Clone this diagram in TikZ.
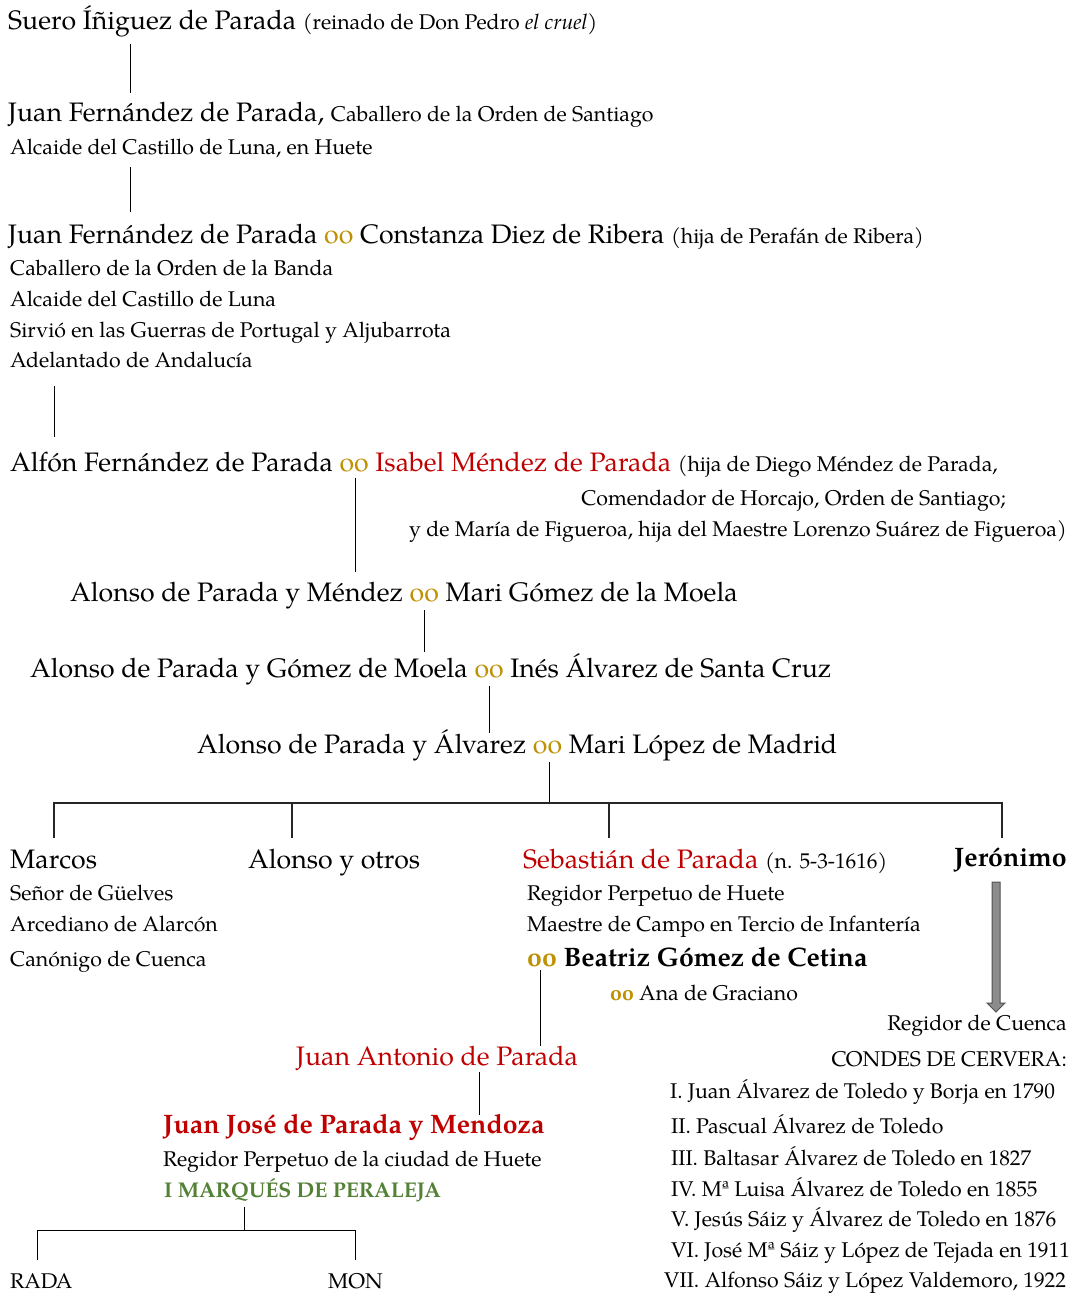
\documentclass[tikz,border=0pt]{standalone}
\usepackage{fontspec}
\setmainfont{texgyrepagella}[Extension=.otf, UprightFont=*-regular, BoldFont=*-bold, ItalicFont=*-italic, BoldItalicFont=*-bolditalic]
\definecolor{dred}{HTML}{C00000}
\definecolor{gold}{HTML}{BF9000}
\definecolor{dgreen}{HTML}{538135}
\definecolor{arrowfill}{HTML}{8C8C8C}
\definecolor{arrowline}{HTML}{505050}
\newcommand\marr{{\color{gold}oo}}
\newcommand\Sm{\fontsize{21.3}{25}\selectfont}
\tikzset{
  txt/.style={anchor=base west, inner sep=0pt, font=\fontsize{26.7}{31}\selectfont},
  txtr/.style={anchor=base east, inner sep=0pt, font=\fontsize{26.7}{31}\selectfont},
  sm/.style={font=\fontsize{21.3}{25}\selectfont},
  link/.style={draw=black, line width=1pt},
  bar/.style={draw=black!85, line width=1.4pt},
  blockarrow/.style={fill=arrowfill, draw=arrowline, line width=1pt}
}
\begin{document}
\begin{tikzpicture}[x=1pt,y=-1pt]
\useasboundingbox (0,0) rectangle (1079,1293);
\fill[white] (0,0) rectangle (1079,1293);

% generations
\node[txt] (suero) at (8,29) {Suero Íñiguez de Parada {\Sm(reinado de Don Pedro \textit{el cruel})}};
\node[txt] (jf1) at (8,121) {Juan Fernández de Parada, {\Sm Caballero de la Orden de Santiago}};
\node[txt,sm] (jf1b) at (10,154) {Alcaide del Castillo de Luna, en Huete};

\node[txt] (jf2) at (8,243) {Juan Fernández de Parada \marr{} Constanza Diez de Ribera {\Sm (hija de Perafán de Ribera)}};
\node[txt,sm] (jf2a) at (10,275) {Caballero de la Orden de la Banda};
\node[txt,sm] (jf2b) at (10,306) {Alcaide del Castillo de Luna};
\node[txt,sm] (jf2c) at (10,337) {Sirvió en las Guerras de Portugal y Aljubarrota};
\node[txt,sm] (jf2d) at (10,367) {Adelantado de Andalucía};

\node[txt] (alfon) at (10,471) {Alfón Fernández de Parada \marr{} \textcolor{dred}{Isabel Méndez de Parada} {\Sm (hija de Diego Méndez de Parada,}};
\node[txtr,sm] (alfonb) at (1006,505) {Comendador de Horcajo, Orden de Santiago;};
\node[txtr,sm] (alfonc) at (1067,536) {y de María de Figueroa, hija del Maestre Lorenzo Suárez de Figueroa)};

\node[txt] (alm) at (70,601) {Alonso de Parada y Méndez \marr{} Mari Gómez de la Moela};
\node[txt] (alg) at (30,677) {Alonso de Parada y Gómez de Moela \marr{} Inés Álvarez de Santa Cruz};
\node[txt] (ala) at (197,753) {Alonso de Parada y Álvarez \marr{} Mari López de Madrid};

% children
\node[txt] (marcos) at (10,868) {Marcos};
\node[txt,sm] (marcosa) at (10,900) {Señor de Güelves};
\node[txt,sm] (marcosb) at (10,931) {Arcediano de Alarcón};
\node[txt,sm] (marcosc) at (10,966) {Canónigo de Cuenca};

\node[txt] (alonso) at (248,868) {Alonso y otros};

\node[txt] (seb) at (523,868) {\textcolor{dred}{Sebastián de Parada} {\Sm (n. 5-3-1616)}};
\node[txt,sm] (seba) at (527,900) {Regidor Perpetuo de Huete};
\node[txt,sm] (sebb) at (527,931) {Maestre de Campo en Tercio de Infantería};
\node[txt] (beat) at (527,966) {\textbf{\marr{} Beatriz Gómez de Cetina}};
\node[txt,sm] (ana) at (610,1000) {\textbf{\marr} Ana de Graciano};

\node[txtr] (jer) at (1067,866) {\textbf{Jerónimo}};
\node[txtr,sm] (regc) at (1067,1030) {Regidor de Cuenca};
\node[txtr,sm] (condes) at (1067,1066) {CONDES DE CERVERA:};
\node[txt,sm] (c1) at (670,1098) {I. Juan Álvarez de Toledo y Borja en 1790};
\node[txt,sm] (c2) at (671,1133) {II. Pascual Álvarez de Toledo};
\node[txt,sm] (c3) at (671,1165) {III. Baltasar Álvarez de Toledo en 1827};
\node[txt,sm] (c4) at (671,1196) {IV. Mª Luisa Álvarez de Toledo en 1855};
\node[txt,sm] (c5) at (671,1226) {V. Jesús Sáiz y Álvarez de Toledo en 1876};
\node[txt,sm] (c6) at (671,1257) {VI. José Mª Sáiz y López de Tejada en 1911};
\node[txt,sm] (c7) at (664,1287) {VII. Alfonso Sáiz y López Valdemoro, 1922};

\node[txt] (jant) at (296,1065) {\textcolor{dred}{Juan Antonio de Parada}};
\node[txt] (jjose) at (163,1133) {\textcolor{dred}{\textbf{Juan José de Parada y Mendoza}}};
\node[txt,sm] (jjosea) at (163,1166) {Regidor Perpetuo de la ciudad de Huete};
\node[txt,sm] (marq) at (164,1197) {\textcolor{dgreen}{\textbf{I MARQUÉS DE PERALEJA}}};

\node[txt,sm] (rada) at (10,1288) {RADA};
\node[txt,sm] (mon) at (328,1288) {MON};

% connector end points
\coordinate (k1a) at (130,44);   \coordinate (k1b) at (130,93);
\coordinate (k2a) at (130,167);  \coordinate (k2b) at (130,212);
\coordinate (k3a) at (54,386);   \coordinate (k3b) at (54,437);
\coordinate (k4a) at (355,478);  \coordinate (k4b) at (355,572);
\coordinate (k5a) at (424,610);  \coordinate (k5b) at (424,652);
\coordinate (k6a) at (489,686);  \coordinate (k6b) at (489,733);
\coordinate (k7a) at (549,762);  \coordinate (k7b) at (549,803);
\coordinate (barL) at (54,803);  \coordinate (barR) at (1002,803);
\coordinate (dMar) at (54,838);  \coordinate (dAlo) at (292,838);
\coordinate (dSeb) at (609,838); \coordinate (dJer) at (1002,838);
\coordinate (tAlo) at (292,803); \coordinate (tSeb) at (609,803);
\coordinate (k8a) at (540,970);  \coordinate (k8b) at (540,1046);
\coordinate (k9a) at (479,1072); \coordinate (k9b) at (479,1115);
\coordinate (k10a) at (244,1207); \coordinate (k10b) at (244,1230);
\coordinate (rbL) at (37,1230);  \coordinate (rbR) at (355,1230);
\coordinate (dRad) at (37,1260); \coordinate (dMon) at (355,1260);

\draw[link] (k1a) -- (k1b);
\draw[link] (k2a) -- (k2b);
\draw[link] (k3a) -- (k3b);
\draw[link] (k4a) -- (k4b);
\draw[link] (k5a) -- (k5b);
\draw[link] (k6a) -- (k6b);
\draw[link] (k7a) -- (k7b);
\draw[bar] (dMar) -- (barL) -- (barR) -- (dJer);
\draw[bar] (tAlo) -- (dAlo);
\draw[bar] (tSeb) -- (dSeb);
\draw[link] (k8a) -- (k8b);
\draw[link] (k9a) -- (k9b);
\draw[link] (k10a) -- (k10b);
\draw[link] (dRad) -- (rbL) -- (rbR) -- (dMon);

% block arrow Jerónimo -> Regidor de Cuenca
\draw[blockarrow] (992,882) -- (1000,882) -- (1000,1003) -- (1005,1003) -- (996,1012) -- (987,1003) -- (992,1003) -- cycle;
\end{tikzpicture}
\end{document}
